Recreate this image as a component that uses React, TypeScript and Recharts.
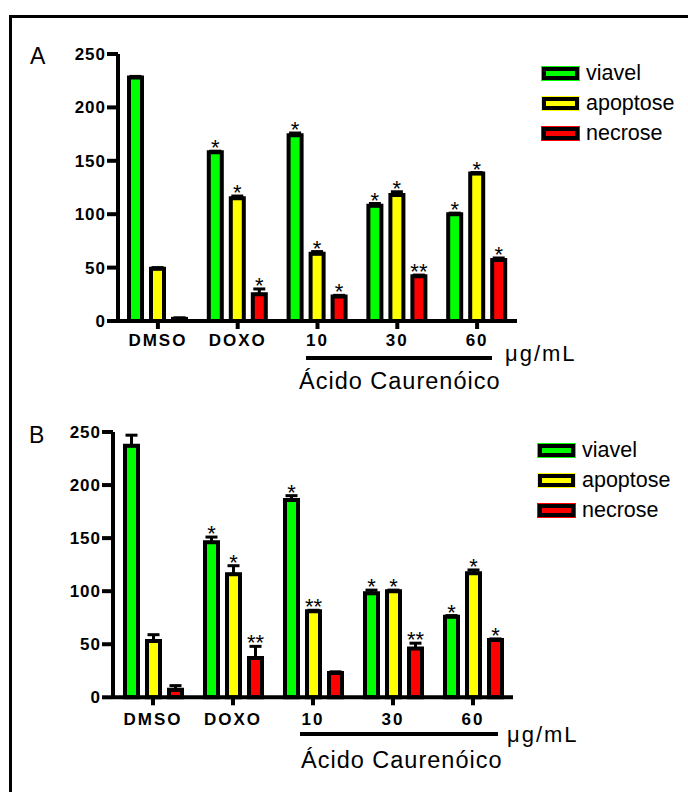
import React from 'react';
import { BarChart, Bar, XAxis, YAxis, Legend, ErrorBar, LabelList } from 'recharts';

const categories = ['DMSO', 'DOXO', '10', '30', '60'];
const series = ['viavel', 'apoptose', 'necrose'];
const yTicks = [0, 50, 100, 150, 200, 250];

// painel A
const viavelA = [228, 158, 174, 108, 100];
const apoptoseA = [49, 115, 63, 118, 138];
const necroseA = [2, 25, 23, 42, 57];
const viavelErrA = [1, 1, 2, 2, 1];
const apoptoseErrA = [1, 2, 2, 3, 1];
const necroseErrA = [1, 5, 1, 1, 2];
const viavelStarA = ['', '*', '*', '*', '*'];
const apoptoseStarA = ['', '*', '*', '*', '*'];
const necroseStarA = ['', '*', '*', '**', '*'];

// painel B
const viavelB = [237, 146, 186, 98, 76];
const apoptoseB = [53, 116, 81, 100, 117];
const necroseB = [7, 37, 23, 46, 54];
const viavelErrB = [10, 5, 4, 3, 1];
const apoptoseErrB = [6, 8, 1, 1, 3];
const necroseErrB = [4, 11, 1, 5, 1];
const viavelStarB = ['', '*', '*', '*', '*'];
const apoptoseStarB = ['', '*', '**', '*', '*'];
const necroseStarB = ['', '**', '', '**', '*'];

const COLORS: Record<string, string> = { viavel: '#00ff00', apoptose: '#ffff00', necrose: '#ff0000' };
const FONT = '"Liberation Sans", Arial, sans-serif';

const buildData = (v: number[], a: number[], n: number[], ve: number[], ae: number[], ne: number[], vs: string[], as: string[], ns: string[]) =>
  categories.map((name, i) => ({
    name,
    viavel: v[i], viavelErr: [0, ve[i]], viavelStar: vs[i],
    apoptose: a[i], apoptoseErr: [0, ae[i]], apoptoseStar: as[i],
    necrose: n[i], necroseErr: [0, ne[i]], necroseStar: ns[i],
  }));

const dataA = buildData(viavelA, apoptoseA, necroseA, viavelErrA, apoptoseErrA, necroseErrA, viavelStarA, apoptoseStarA, necroseStarA);
const dataB = buildData(viavelB, apoptoseB, necroseB, viavelErrB, apoptoseErrB, necroseErrB, viavelStarB, apoptoseStarB, necroseStarB);

// star placed above the error bar, using the bar's own px/unit
const starLabel = (values: number[], errs: number[]) => (props: any) => {
  const vb = props.viewBox || props;
  const { x, y, width, height } = vb;
  const idx = props.index;
  if (!props.value || idx == null) return null;
  const pxPerUnit = height / values[idx];
  const top = y - errs[idx] * pxPerUnit - 2;
  return (
    <text x={x + width / 2} y={top + 6} textAnchor="middle" fontSize={22} fill="#000" fontFamily={FONT}>
      {props.value}
    </text>
  );
};

// fixed order, as in the original figure
const renderLegend = () => (
  <div>
    {series.map((k) => (
      <div key={k} style={{ display: 'flex', alignItems: 'center', height: 30 }}>
        <span style={{
          display: 'inline-block', width: 37, height: 13, boxSizing: 'border-box',
          border: '4px solid #000', background: COLORS[k], outline: `1px solid ${COLORS[k]}`,
        }} />
        <span style={{ marginLeft: 7, fontSize: 21.5, color: '#000', fontFamily: FONT }}>{k}</span>
      </div>
    ))}
  </div>
);

interface PanelProps {
  data: any[];
  vals: number[][];
  errs: number[][];
  height: number;
  margin: { top: number; right: number; bottom: number; left: number };
  tickMargin: number;
  legendPos: { left: number; top: number };
}

const Panel = ({ data, vals, errs, height, margin, tickMargin, legendPos }: PanelProps) => (
  <BarChart width={688} height={height} data={data} margin={margin} barGap={9}>
    <XAxis
      dataKey="name"
      height={40}
      axisLine={{ stroke: '#000', strokeWidth: 4 }}
      tickLine={{ stroke: '#000', strokeWidth: 4 }}
      tickSize={8}
      tickMargin={tickMargin}
      tick={{ fontSize: 17, fontWeight: 'bold', fill: '#000', letterSpacing: 2 }}
    />
    <YAxis
      width={60}
      domain={[0, 250]}
      ticks={yTicks}
      axisLine={{ stroke: '#000', strokeWidth: 4 }}
      tickLine={{ stroke: '#000', strokeWidth: 4 }}
      tickSize={11}
      tickMargin={1}
      tick={{ fontSize: 17, fontWeight: 'bold', fill: '#000', letterSpacing: 1 }}
    />
    <Legend layout="vertical" align="center" verticalAlign="middle" content={renderLegend}
      wrapperStyle={{ left: legendPos.left, top: legendPos.top, width: 150 }} />
    {series.map((k, i) => (
      <Bar key={k} dataKey={k} name={k} fill={COLORS[k]} stroke="#000" strokeWidth={4} barSize={13} isAnimationActive={false}>
        <ErrorBar dataKey={`${k}Err`} width={6} strokeWidth={3} stroke="#000" direction="y" isAnimationActive={false} />
        <LabelList dataKey={`${k}Star`} content={starLabel(vals[i], errs[i])} />
      </Bar>
    ))}
  </BarChart>
);

const Annotations = () => (
  <svg width={688} height={792} style={{ position: 'absolute', left: 0, top: 0, pointerEvents: 'none' }} fontFamily={FONT}>
    <text x={30} y={64} fontSize={23} fill="#000">A</text>
    <rect x={306} y={356} width={186} height={4} fill="#000" />
    <text x={505} y={361} fontSize={22} letterSpacing={2} fill="#000">μg/mL</text>
    <text x={299} y={389} fontSize={23.5} letterSpacing={1} fill="#000">Ácido Caurenóico</text>

    <text x={29} y={443} fontSize={23} fill="#000">B</text>
    <rect x={300} y={732} width={198} height={4} fill="#000" />
    <text x={507} y={742} fontSize={22} letterSpacing={2} fill="#000">μg/mL</text>
    <text x={301} y={768} fontSize={23.5} letterSpacing={1} fill="#000">Ácido Caurenóico</text>
  </svg>
);

export default function App() {
  return (
    <div style={{ position: 'absolute', left: 0, top: 0, width: 688, height: 792, background: '#fff', overflow: 'hidden', fontFamily: FONT }}>
      <div style={{ position: 'absolute', left: 9, top: 15, width: 720, height: 820, border: '3px solid #000', boxSizing: 'border-box' }} />
      <div style={{ position: 'absolute', left: 0, top: 0 }}>
        <Panel data={dataA} vals={[viavelA, apoptoseA, necroseA]} errs={[viavelErrA, apoptoseErrA, necroseErrA]}
          height={390} margin={{ top: 54, right: 171, bottom: 29, left: 58 }} tickMargin={4.5} legendPos={{ left: 542, top: 58 }} />
      </div>
      <div style={{ position: 'absolute', left: 0, top: 390 }}>
        <Panel data={dataB} vals={[viavelB, apoptoseB, necroseB]} errs={[viavelErrB, apoptoseErrB, necroseErrB]}
          height={400} margin={{ top: 42, right: 175, bottom: 52.7, left: 53 }} tickMargin={8} legendPos={{ left: 538, top: 45 }} />
      </div>
      <Annotations />
    </div>
  );
}
